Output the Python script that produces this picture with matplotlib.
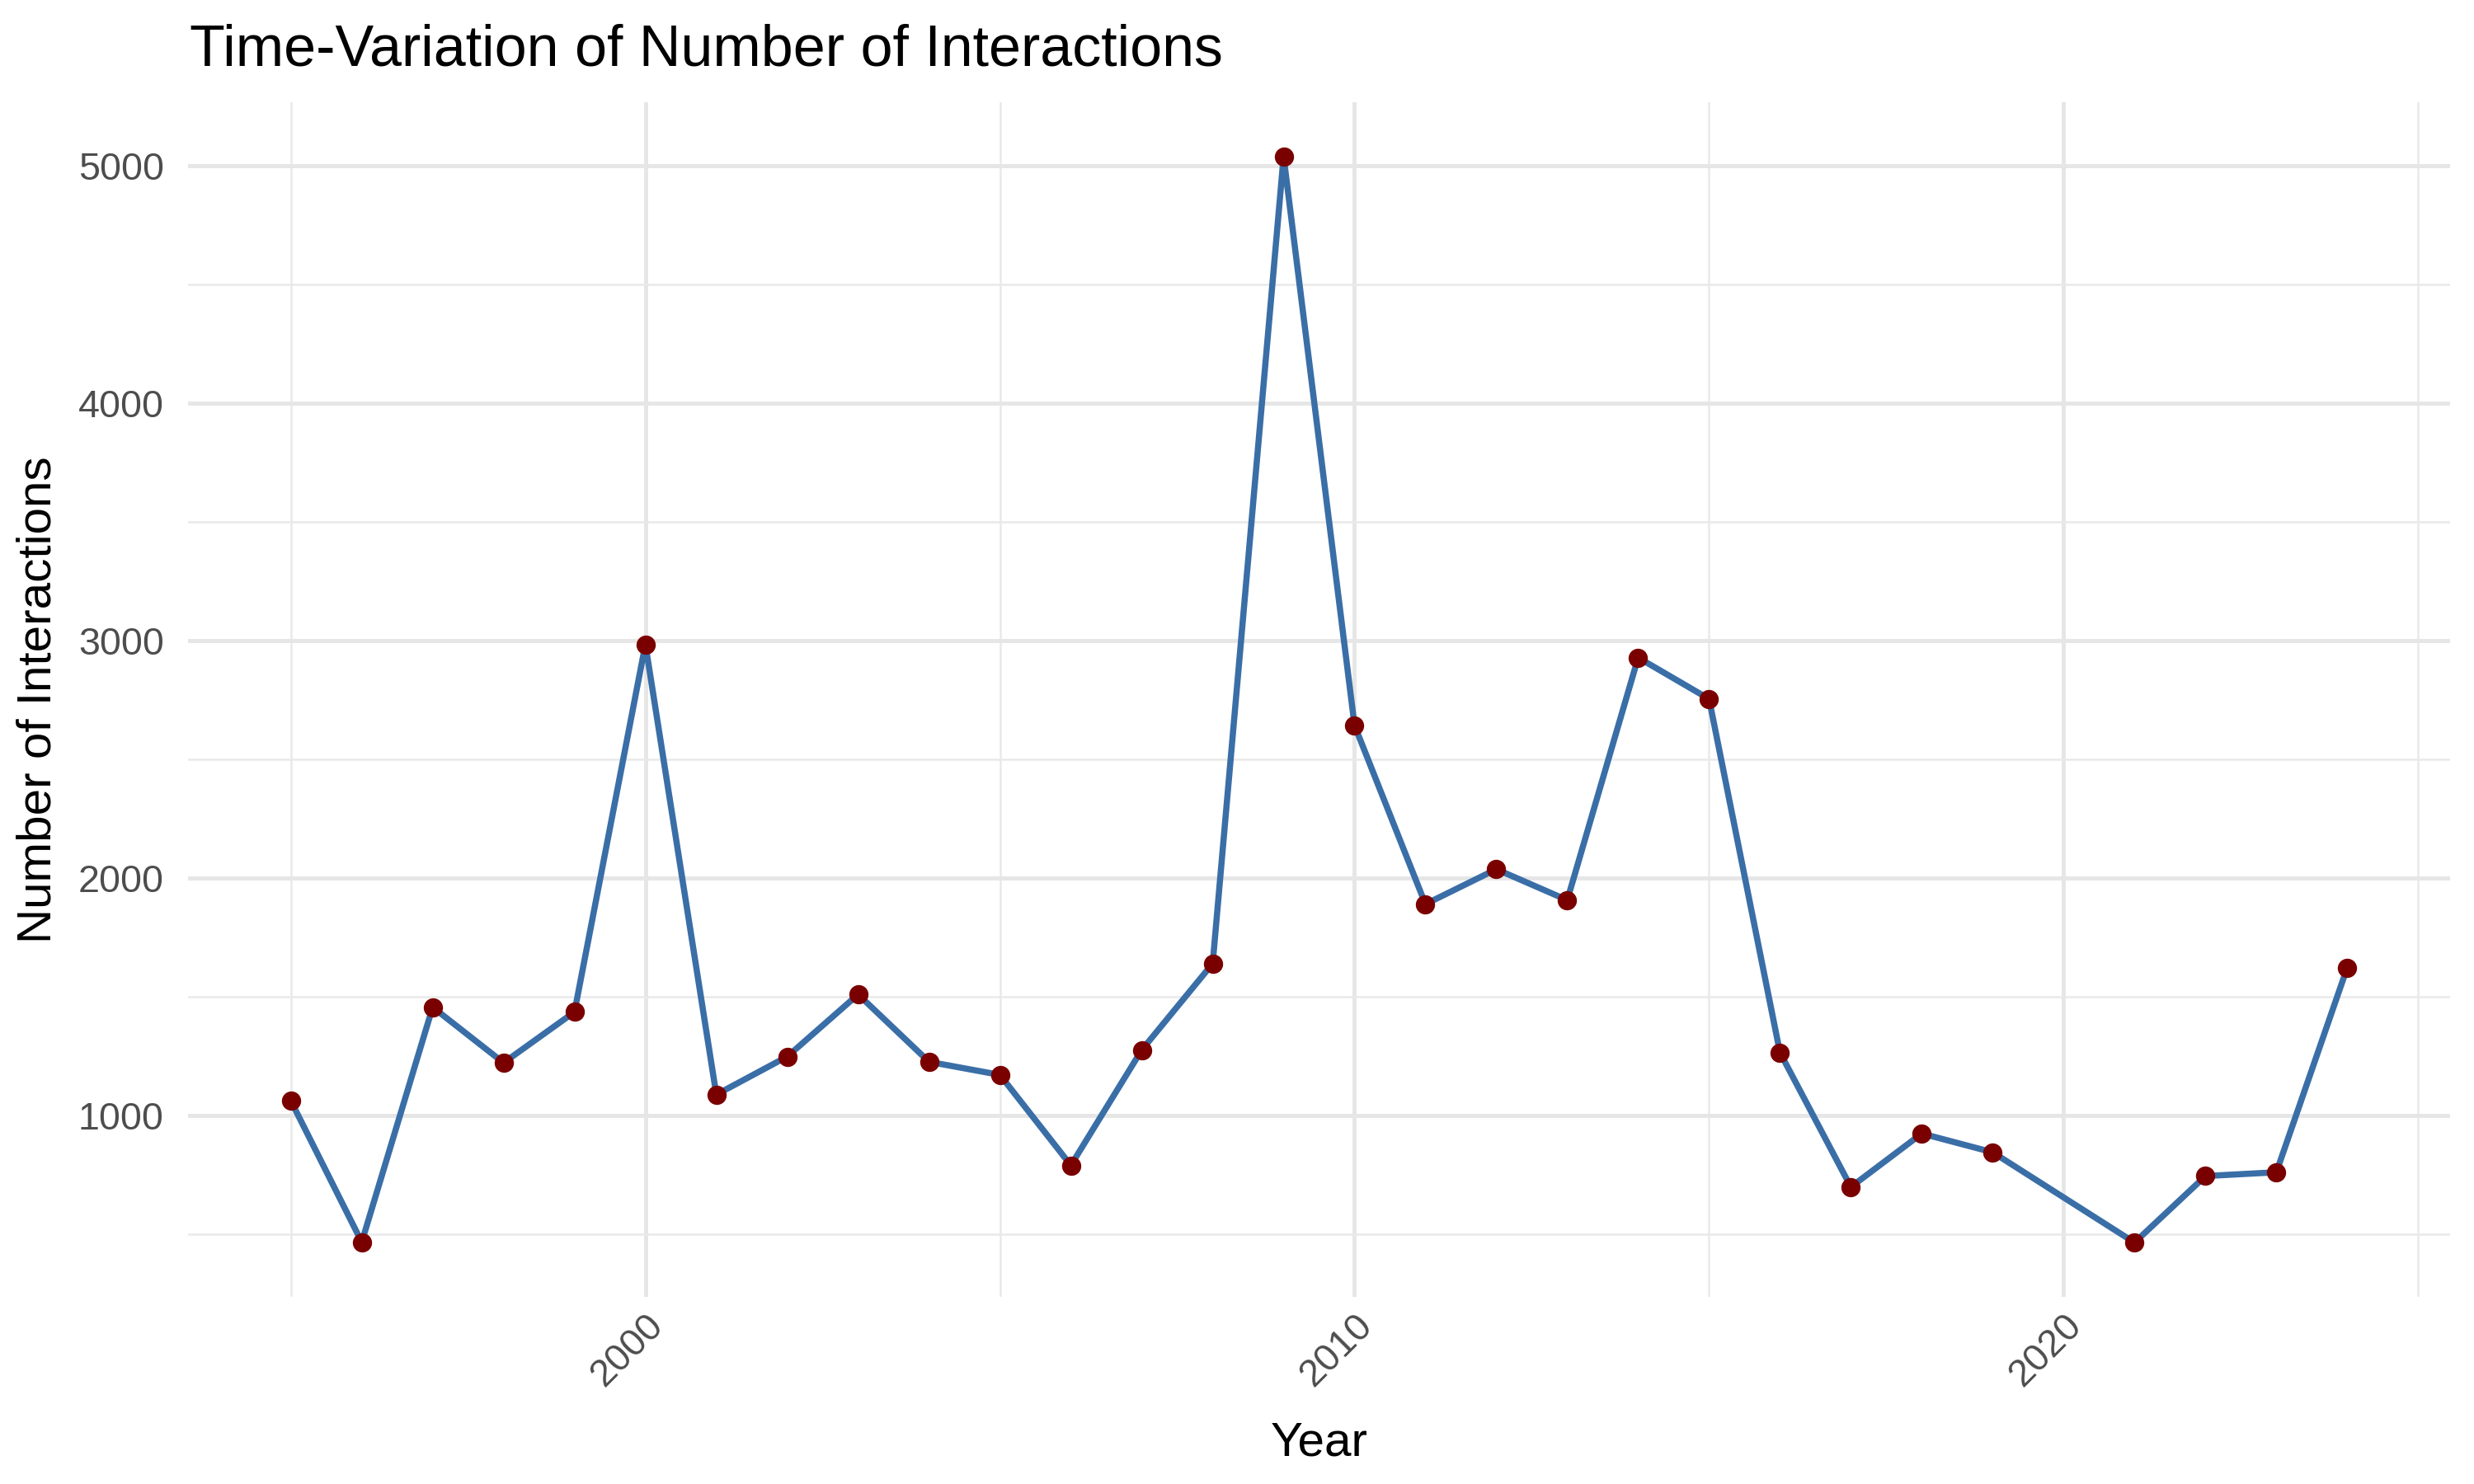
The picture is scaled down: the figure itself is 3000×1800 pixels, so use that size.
import matplotlib
matplotlib.use("Agg")
import matplotlib.pyplot as plt
from matplotlib.ticker import MultipleLocator

years = [1995, 1996, 1997, 1998, 1999, 2000, 2001, 2002, 2003, 2004,
         2005, 2006, 2007, 2008, 2009, 2010, 2011, 2012, 2013, 2014,
         2015, 2016, 2017, 2018, 2019, 2021, 2022, 2023, 2024]
interactions = [1061, 466, 1455, 1221, 1435, 2983, 1087, 1247, 1509, 1225,
                1170, 789, 1275, 1639, 5037, 2642, 1889, 2036, 1906, 2927,
                2753, 1264, 698, 923, 844, 464, 744, 760, 1622]

title = "Time-Variation of Number of Interactions"
xlabel = "Year"
ylabel = "Number of Interactions"

plt.rcParams['font.family'] = ['Liberation Sans', 'DejaVu Sans']

fig = plt.figure(figsize=(10, 6), dpi=300)
W, H = 3000, 1800
left, right, top, bottom = 228, 2971, 124, 1573
ax = fig.add_axes([left / W, 1 - bottom / H, (right - left) / W, (bottom - top) / H])

ax.plot(years, interactions, color='#3A6EA7', lw=1.8, zorder=3, solid_joinstyle='round')
ax.plot(years, interactions, 'o', color='#7A0000', markersize=5.6, markeredgewidth=0, zorder=4)

ax.margins(x=0.05, y=0.05)

ax.xaxis.set_major_locator(MultipleLocator(10))
ax.xaxis.set_minor_locator(MultipleLocator(5))
ax.yaxis.set_major_locator(MultipleLocator(1000))
ax.yaxis.set_minor_locator(MultipleLocator(500))

ax.grid(which='major', color='#E6E6E6', lw=1.2, zorder=0)
ax.grid(which='minor', color='#E9E9E9', lw=0.6, zorder=0)
ax.set_axisbelow(True)
for s in ax.spines.values():
    s.set_visible(False)
ax.tick_params(which='both', length=0)
ax.tick_params(axis='y', labelsize=11.2, labelcolor='#4D4D4D', pad=7)
ax.tick_params(axis='x', labelsize=11.2, labelcolor='#4D4D4D', pad=3)
for lab in ax.get_xticklabels():
    lab.set_rotation(45)
    lab.set_ha('right')
    lab.set_va('top')
    lab.set_rotation_mode('anchor')

ax.set_xlabel(xlabel, fontsize=14, labelpad=8)
ax.set_ylabel(ylabel, fontsize=14, labelpad=5)
fig.text(230 / W, 1 - 80 / H, title, fontsize=16.8, ha='left', va='baseline')

fig.savefig("out.png", dpi=300, facecolor='white')
